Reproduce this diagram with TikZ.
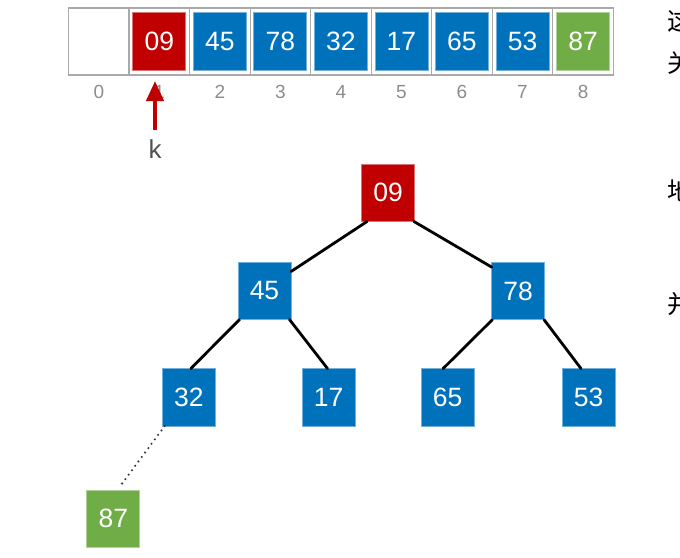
\documentclass[tikz,border=0pt]{standalone}
\usepackage{fontspec}
\setmainfont{Liberation Sans}
\newfontfamily\cjk{Noto Sans CJK SC}
\usetikzlibrary{arrows.meta,calc,positioning}
\definecolor{heapred}{RGB}{192,0,0}
\definecolor{heapblue}{RGB}{0,114,188}
\definecolor{heapgreen}{RGB}{112,173,71}
\definecolor{cellgray}{RGB}{170,170,170}
\definecolor{indexgray}{RGB}{140,140,140}
\tikzset{
 cellbox/.style={draw=cellgray,line width=1.2pt,minimum width=60.53pt,
  minimum height=67pt,inner sep=0pt,outer sep=0pt},
 keybox/.style={fill=#1,draw=#1!55!white,line width=0.8pt,text=white,
  font=\fontsize{26.5}{30}\selectfont,minimum width=53pt,minimum height=57.5pt,
  inner sep=0pt,outer sep=0pt},
 idx/.style={text=indexgray,font=\fontsize{19}{20}\selectfont,inner sep=0pt},
 edge/.style={black,line width=2.8pt},
 sidetext/.style={anchor=west,inner sep=0pt,font=\cjk\fontsize{25}{30}\selectfont}
}

\begin{document}
\begin{tikzpicture}[x=1pt,y=-1pt,>=Stealth,line cap=round]
 \useasboundingbox (0,0) rectangle (680,557);
 % array
 \foreach \i in {0,...,8}
  \node[cellbox] (c\i) at ({98.8+60.53*\i},41.5) {};
 \foreach \i in {0,...,8}
  \node[idx] (i\i) at ($(c\i.south)+(0,17)$) {\i};
 \foreach \i/\k/\c in {1/09/heapred,2/45/heapblue,3/78/heapblue,4/32/heapblue,
   5/17/heapblue,6/65/heapblue,7/53/heapblue,8/87/heapgreen}
  \node[keybox=\c] (a\i) at (c\i) {\k};
 \node[text=black!68,font=\fontsize{26}{30}\selectfont,inner sep=0pt]
  (k) at (155,149) {k};
 \coordinate (ktip) at (155,81);
 \draw[-{Triangle[width=17pt,length=20pt]},heapred,line width=4pt,
  line cap=butt,shorten <=9pt] (k.north) -- (ktip);
 % tree
 \node[keybox=heapred] (t09) at (388,192.7) {09};
 \node[keybox=heapblue] (t45) at (264.5,290.8) {45};
 \node[keybox=heapblue] (t78) at (518.2,291) {78};
 \node[keybox=heapblue] (t32) at (188.8,397.3) {32};
 \node[keybox=heapblue] (t17) at (328.5,397.3) {17};
 \node[keybox=heapblue] (t65) at (447.7,397.3) {65};
 \node[keybox=heapblue] (t53) at (588.7,397.3) {53};
 \node[keybox=heapgreen] (t87) at (113.3,518.7) {87};
 \draw[edge] (t09.234) -- (t45.36);
 \draw[edge] (t09.312) -- (t78.138);
 \draw[edge] (t45.229) -- (t32.86);
 \draw[edge] (t45.311) -- (t17.92);
 \draw[edge] (t78.228) -- (t65.99);
 \draw[edge] (t78.312) -- (t53.105);
 \draw[black!80,line width=2.3pt,dash pattern=on 0pt off 5.5pt,shorten >=5pt]
  (t32.230) -- (t87.82);
 % text cut off at the right edge
 \begin{scope}
  \clip (0,0) rectangle (680,557);
  \node[sidetext] (s1) at (667,21) {这};
  \node[sidetext] (s2) at (667,63) {关};
  \node[sidetext] (s3) at (667,191) {地};
  \node[sidetext] (s4) at (667,304) {并};
 \end{scope}
\end{tikzpicture}
\end{document}
